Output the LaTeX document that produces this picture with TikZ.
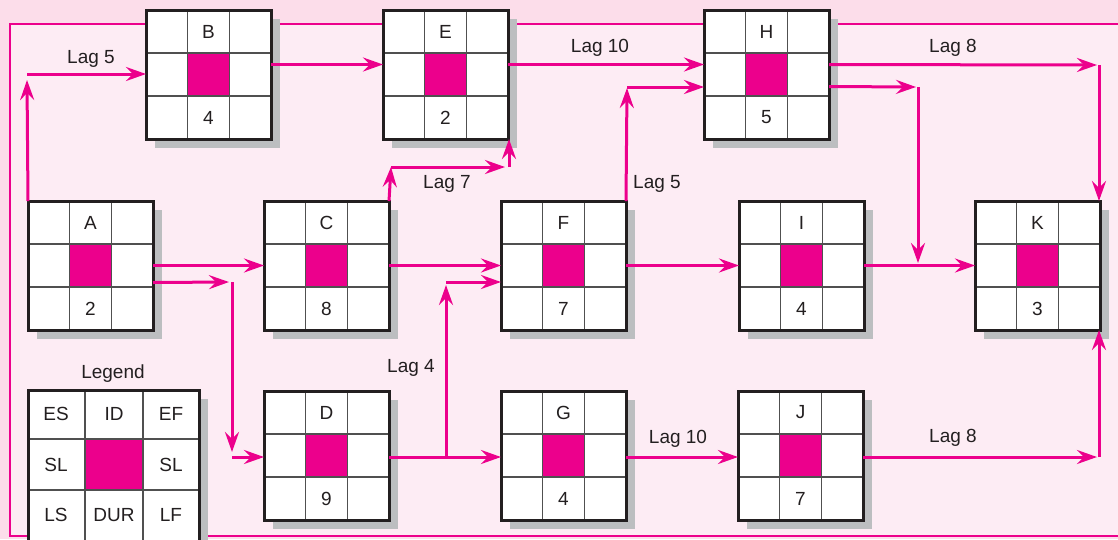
\documentclass[tikz,border=0pt]{standalone}
\usepackage{fontspec}
\setmainfont{Liberation Sans}
\usetikzlibrary{arrows.meta,calc,shadows}
\definecolor{mag}{RGB}{236,0,140}
\definecolor{innerpink}{RGB}{253,236,244}
\definecolor{outerpink}{RGB}{252,221,234}
\definecolor{shadowgray}{RGB}{188,190,192}
\definecolor{boxline}{RGB}{35,31,32}
\definecolor{gridgray}{RGB}{80,80,80}
\definecolor{txt}{RGB}{35,31,32}
\tikzset{
  boxbase/.style={fill=white, inner sep=0pt, outer sep=0pt,
    drop shadow={shadow xshift=9pt, shadow yshift=-9pt, fill=shadowgray, opacity=1}},
  actbox/.style={boxbase, minimum width=125pt, minimum height=129pt},
  legbox/.style={boxbase, minimum width=171pt, minimum height=152pt},
  gridline/.style={draw=gridgray, line width=1.3pt},
  boxborder/.style={draw=boxline, line width=3pt},
  lbl/.style={font=\fontsize{19}{22}\selectfont, text=txt, inner sep=0pt},
  laglbl/.style={lbl, anchor=base},
  arr/.style={draw=mag, line width=3pt, -{Stealth[length=20pt,width=14pt,inset=7pt]}},
  frameline/.style={draw=mag, line width=2pt}
}
\newcommand\actgrid[3]{%
  \fill[mag] ($(#1.north west)!1/3!(#1.south east)$) rectangle ($(#1.north west)!2/3!(#1.south east)$);
  \foreach \ii in {1,2} {
    \draw[gridline] ($(#1.north west)!\ii/3!(#1.north east)$) -- ($(#1.south west)!\ii/3!(#1.south east)$);
    \draw[gridline] ($(#1.north west)!\ii/3!(#1.south west)$) -- ($(#1.north east)!\ii/3!(#1.south east)$);
  }
  \draw[boxborder] (#1.north west) rectangle (#1.south east);
  \node[lbl] (#1-id) at ($(#1.north)!1/6!(#1.south)$) {#2};
  \node[lbl] (#1-dur) at ($(#1.north)!5/6!(#1.south)$) {#3};
}
\begin{document}
\begin{tikzpicture}[x=1pt,y=-1pt]
\useasboundingbox (0,0) rectangle (1118,539);
\fill[outerpink] (0,0) rectangle (1118,539);
\fill[innerpink] (10,24) rectangle (1125,536);
\draw[frameline] (1125,24) -- (10,24) -- (10,536) -- (1125,536);

% boxes
\node[actbox, anchor=north west] (a) at (28,201) {};
\node[actbox, anchor=north west] (b) at (146,10) {};
\node[actbox, anchor=north west] (c) at (264,201) {};
\node[actbox, anchor=north west] (d) at (264,391) {};
\node[actbox, anchor=north west] (e) at (383,10) {};
\node[actbox, anchor=north west] (f) at (501,201) {};
\node[actbox, anchor=north west] (g) at (501,391) {};
\node[actbox, anchor=north west] (h) at (704,10) {};
\node[actbox, anchor=north west] (i) at (739,201) {};
\node[actbox, anchor=north west] (j) at (738,391) {};
\node[actbox, anchor=north west] (k) at (975,201) {};
\actgrid{a}{A}{2}
\actgrid{b}{B}{4}
\actgrid{c}{C}{8}
\actgrid{d}{D}{9}
\actgrid{e}{E}{2}
\actgrid{f}{F}{7}
\actgrid{g}{G}{4}
\actgrid{h}{H}{5}
\actgrid{i}{I}{4}
\actgrid{j}{J}{7}
\actgrid{k}{K}{3}

% legend
\node[laglbl] (legtitle) at (113,378) {Legend};
\node[legbox, anchor=north west] (leg) at (28,390) {};
\fill[mag] (85,439) rectangle (143,490);
\draw[gridline] (85,390) -- (85,545);
\draw[gridline] (143,390) -- (143,545);
\draw[gridline] (28,439) -- (199,439);
\draw[gridline] (28,490) -- (199,490);
\draw[boxborder] (leg.north west) rectangle (leg.south east);
\node[lbl] (l-es) at (56,414) {ES};
\node[lbl] (l-id) at (114,414) {ID};
\node[lbl] (l-ef) at (171,414) {EF};
\node[lbl] (l-sl1) at (56,465) {SL};
\node[lbl] (l-sl2) at (171,465) {SL};
\node[lbl] (l-ls) at (56,515) {LS};
\node[lbl] (l-dur) at (114,515) {DUR};
\node[lbl] (l-lf) at (171,515) {LF};

% bend coordinates
\coordinate (ab1) at (27,80);
\coordinate (ab2) at (27,74);
\coordinate (hk1) at (1097,65);
\coordinate (hk2) at (1099,65);
\coordinate (hi1) at (916,87);
\coordinate (hi2) at (918,87);
\coordinate (hi3) at (918,263);
\coordinate (ad1) at (229,282);
\coordinate (ad2) at (232,282);
\coordinate (ad3) at (232,452);
\coordinate (ad4) at (232,457);
\coordinate (ce1) at (391,167);
\coordinate (ce2) at (505,167);
\coordinate (ce3) at (509,167);
\coordinate (df1) at (446,457);
\coordinate (df2) at (446,285);
\coordinate (df3) at (446,282);
\coordinate (fh1) at (627,88);
\coordinate (fh2) at (627,87);
\coordinate (jk1) at (1097,457);
\coordinate (jk2) at (1099,457);

% connectors
\draw[arr] (a.north west) -- (ab1);
\draw[arr] (ab2) -- (b.west |- ab2);
\draw[arr] ([yshift=10pt]b.east) -- ([yshift=10pt]e.west);
\draw[arr] ([yshift=10pt]e.east) -- ([yshift=10pt]h.west);
\draw[arr] ([yshift=10pt]h.east) -- (hk1);
\draw[arr] (hk2) -- (hk2 |- k.north);
\draw[arr] ([yshift=-12pt]h.east) -- (hi1);
\draw[arr] (hi2) -- (hi3);
\draw[arr] (a.east) -- (c.west);
\draw[arr] ([yshift=-17pt]a.east) -- (ad1);
\draw[arr] (ad2) -- (ad3);
\draw[arr] (ad4) -- (d.west |- ad4);
\draw[arr] (c.north east) -- (ce1);
\draw[arr] (ce1) -- (ce2);
\draw[arr] (ce3) -- (ce3 |- e.south);
\draw[arr] (c.east) -- (f.west);
\draw[arr] (d.east |- df1) -- (g.west |- df1);
\draw[arr] (df1) -- (df2);
\draw[arr] (df3) -- (f.west |- df3);
\draw[arr] (f.north east) -- (fh1);
\draw[arr] (fh2) -- (h.west |- fh2);
\draw[arr] (f.east) -- (i.west);
\draw[arr] (i.east) -- (k.west);
\draw[arr] (g.east |- df1) -- (j.west |- df1);
\draw[arr] (j.east |- jk1) -- (jk1);
\draw[arr] (jk2) -- (jk2 |- k.south);

% lag labels
\node[laglbl] (lag5a) at (91,63) {Lag 5};
\node[laglbl] (lag10a) at (600,52) {Lag 10};
\node[laglbl] (lag8a) at (953,52) {Lag 8};
\node[laglbl] (lag7) at (447,188) {Lag 7};
\node[laglbl] (lag5b) at (657,188) {Lag 5};
\node[laglbl] (lag4) at (411,372) {Lag 4};
\node[laglbl] (lag10b) at (678,443) {Lag 10};
\node[laglbl] (lag8b) at (953,442) {Lag 8};
\end{tikzpicture}
\end{document}
